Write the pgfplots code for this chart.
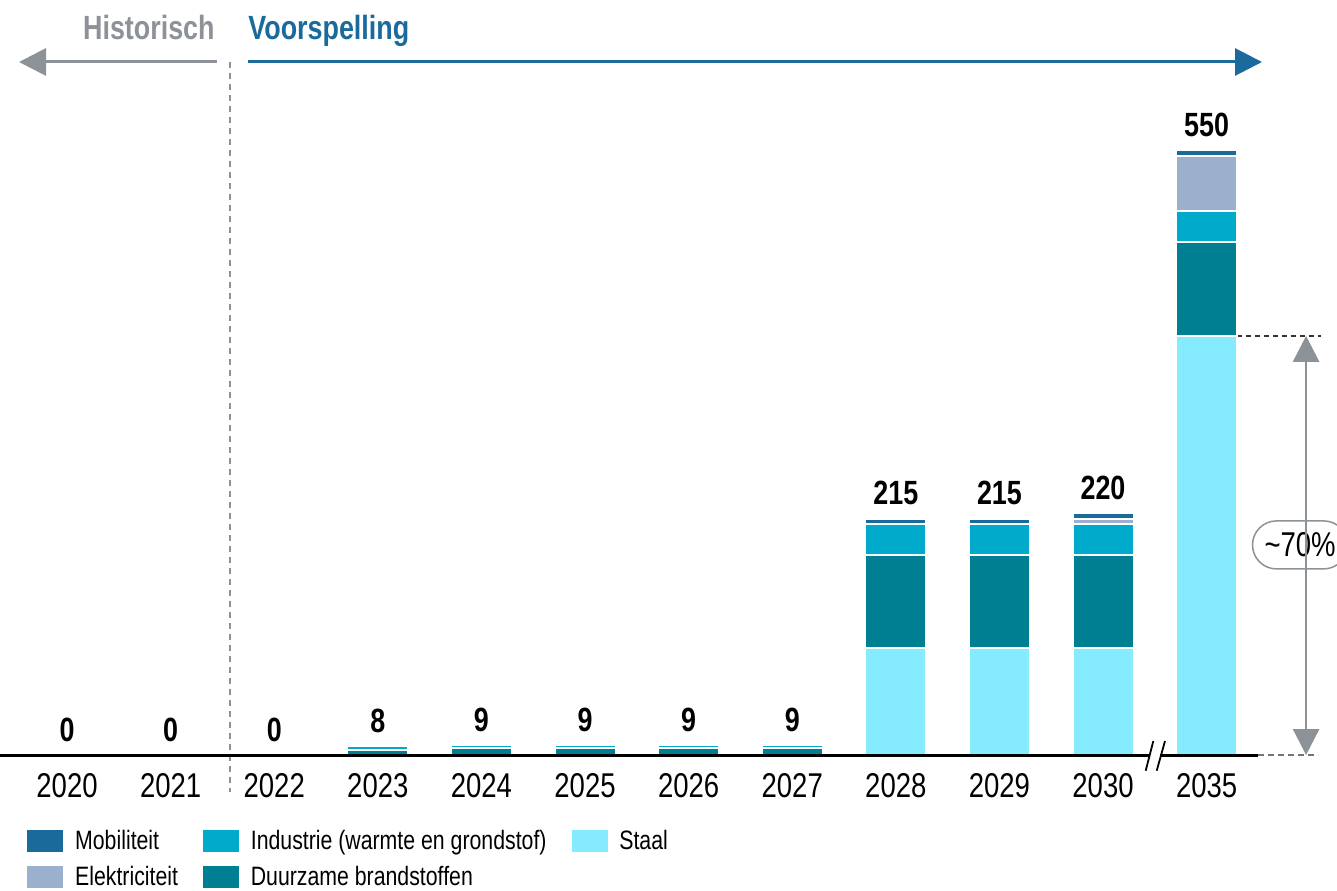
\documentclass[border=0pt]{standalone}
\usepackage{fontspec}
\setmainfont{Liberation Sans}[FakeStretch=0.8]
\usepackage{pgfplots}
\pgfplotsset{compat=1.18}
\usepackage{pgfplotstable}
\usetikzlibrary{arrows.meta}
\definecolor{mob}{HTML}{1A6A9C}
\definecolor{elec}{HTML}{9BB0CC}
\definecolor{ind}{HTML}{00AACA}
\definecolor{duur}{HTML}{007F93}
\definecolor{staal}{HTML}{85EBFF}
\definecolor{hgrey}{HTML}{8D9298}
\definecolor{hblue}{HTML}{1A6A9C}
\newcommand{\tickfont}{\fontsize{17.2}{20}\selectfont}
\newcommand{\lblfont}{\fontsize{16.8}{19}\selectfont\bfseries}
\newcommand{\legfont}{\fontsize{13.3}{16}\selectfont}
\newcommand{\hdrfont}{\fontsize{16.8}{20}\selectfont\bfseries}
\pgfplotstableread{
x staal duur ind elec mob lab total
0 0 0 0 0 0 0.01 0
1 0 0 0 0 0 0.01 0
2 0 0 0 0 0 0.01 0
3 0 5 3 0 0 0.01 8
4 0 6 3 0 0 0.01 9
5 0 6 3 0 0 0.01 9
6 0 6 3 0 0 0.01 9
7 0 6 3 0 0 0.01 9
8 97 85 28 0 5 0.01 215
9 97 85 28 0 5 0.01 215
10 97 85 28 5 5 0.01 220
11 381 85 29 50 5 0.01 550
}\data
\begin{document}
\begin{tikzpicture}
\begin{axis}[
  at={(0pt,0pt)}, anchor=south west,
  scale only axis, width=629pt, height=346.5pt,
  xmin=-0.647, xmax=11.496, ymin=0, ymax=630,
  ybar stacked, bar width=30.5pt,
  axis x line=bottom, axis y line=none,
  x axis line style={-, line width=1.5pt, black},
  xtick={0,1,2,3,4,5,6,7,8,9,10,11},
  xticklabels={2020,2021,2022,2023,2024,2025,2026,2027,2028,2029,2030,2035},
  major tick length=0pt,
  xticklabel style={font=\tickfont, inner sep=0pt, yshift=-8.8pt, anchor=north},
  axis on top, clip=false,
  legend columns=3,
  legend style={at={(0.02146,-0.1025)}, anchor=north west, draw=none, fill=none,
    inner sep=0pt, font=\legfont,
    cells={anchor=base west, inner sep=0pt, text height=9.5pt, text depth=2.5pt},
    row sep=3pt,
    /tikz/every odd column/.append style={column sep=4pt},
    /tikz/every even column/.append style={column sep=10.5pt}},
]
\addplot[fill=staal, draw=white, line width=1pt, forget plot] table[x=x, y=staal]{\data};
\addplot[fill=duur, draw=white, line width=1pt, forget plot] table[x=x, y=duur]{\data};
\addplot[fill=ind, draw=white, line width=1pt, forget plot] table[x=x, y=ind]{\data};
\addplot[fill=elec, draw=white, line width=1pt, forget plot] table[x=x, y=elec]{\data};
\addplot[fill=mob, draw=white, line width=1pt, forget plot] table[x=x, y=mob]{\data};
\addplot[draw=none, fill=none, forget plot,
  nodes near coords, point meta=explicit symbolic,
  nodes near coords style={font=\lblfont, anchor=south, inner sep=0pt, yshift=6.5pt, text=black}]
  table[x=x, y=lab, meta=total]{\data};

\addlegendimage{legend image code/.code={\fill[mob] (0pt,-1pt) rectangle (17.5pt,9.5pt);}}
\addlegendentry{Mobiliteit}
\addlegendimage{legend image code/.code={\fill[ind] (0pt,-1pt) rectangle (17.5pt,9.5pt);}}
\addlegendentry{Industrie (warmte en grondstof)}
\addlegendimage{legend image code/.code={\fill[staal] (0pt,-1pt) rectangle (17.5pt,9.5pt);}}
\addlegendentry{Staal}
\addlegendimage{legend image code/.code={\fill[elec] (0pt,-1pt) rectangle (17.5pt,9.5pt);}}
\addlegendentry{Elektriciteit}
\addlegendimage{legend image code/.code={\fill[duur] (0pt,-1pt) rectangle (17.5pt,9.5pt);}}
\addlegendentry{Duurzame brandstoffen}

% ~70% annotation
\draw[black!80, line width=0.6pt, dash pattern=on 2.5pt off 2pt] (axis cs:11.29,381) -- (axis cs:12.1,381);
\draw[hgrey, line width=1.4pt, {Triangle[length=13pt,width=13pt]}-{Triangle[length=13pt,width=13pt]}]
  (axis cs:11.96,381) -- (axis cs:11.96,0);
\node[draw=hgrey, line width=0.75pt, fill=white, rounded corners=12pt, minimum height=24pt,
  inner xsep=6pt, font=\tickfont, xshift=-3pt] at (axis cs:11.96,191) {\textasciitilde 70\%};
% historic / forecast divider
\draw[hgrey, line width=1pt, dash pattern=on 3pt off 2.5pt] (axis cs:1.573,630) -- (axis cs:1.573,-34);
\end{axis}
% axis break
\fill[white] (575pt,-1.2pt) rectangle (580.2pt,1.2pt);
\draw[black, line width=0.9pt] (572.85pt,-7.85pt) -- (576.65pt,7pt);
\draw[black, line width=0.9pt] (578.35pt,-7.85pt) -- (582.5pt,7pt);
\draw[hgrey!80!black, line width=1pt, dash pattern=on 3pt off 2pt] (629pt,0pt) -- (659pt,0pt);
% header
\node[anchor=base east, inner sep=0pt, font=\hdrfont, text=hgrey] at (107.5pt,357.5pt) {Historisch};
\node[anchor=base west, inner sep=0pt, font=\hdrfont, text=hblue] at (124pt,357.5pt) {Voorspelling};
\draw[hgrey, line width=1.5pt, -{Triangle[length=13.5pt,width=13.5pt]}] (108.5pt,346.5pt) -- (9.5pt,346.5pt);
\draw[hblue, line width=1.5pt, -{Triangle[length=13.5pt,width=13.5pt]}] (124pt,346.5pt) -- (631pt,346.5pt);
\pgfresetboundingbox
\useasboundingbox (0pt,-67.5pt) rectangle (668.5pt,377.5pt);
\end{tikzpicture}
\end{document}
